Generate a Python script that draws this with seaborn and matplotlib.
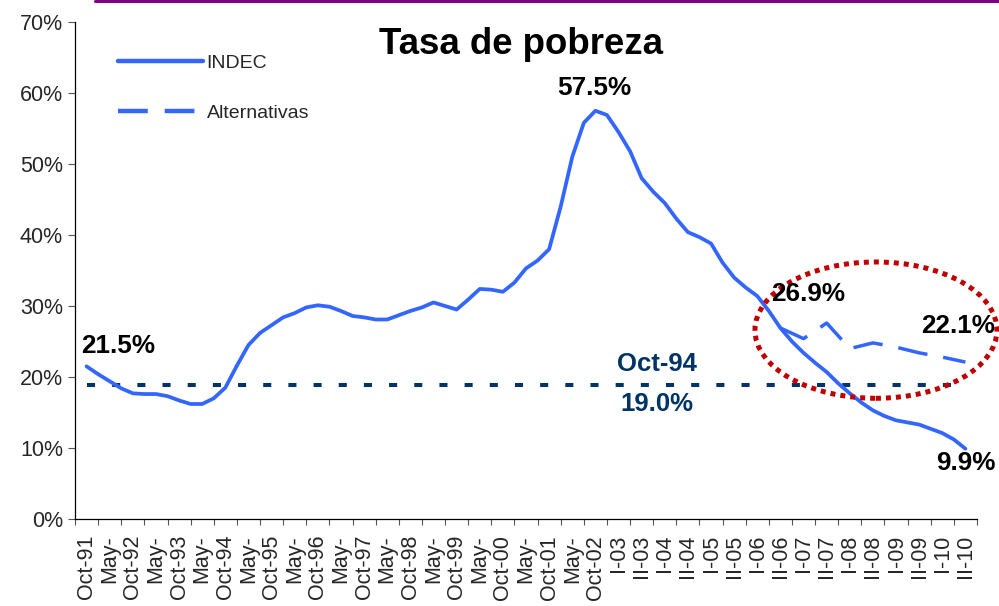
import numpy as np
import pandas as pd
import matplotlib
matplotlib.use("Agg")
import matplotlib.pyplot as plt
import seaborn as sns
from matplotlib.patches import Ellipse
from matplotlib.lines import Line2D

# ---------------- data ----------------
categories = ["Oct-91", "May-", "Oct-92", "May-", "Oct-93", "May-", "Oct-94", "May-",
              "Oct-95", "May-", "Oct-96", "May-", "Oct-97", "May-", "Oct-98", "May-",
              "Oct-99", "May-", "Oct-00", "May-", "Oct-01", "May-", "Oct-02",
              "I-03", "II-03", "I-04", "II-04", "I-05", "II-05", "I-06", "II-06",
              "I-07", "II-07", "I-08", "II-08", "I-09", "II-09", "I-10", "II-10"]

# INDEC series read at half-category resolution (Oct-91 ... II-10)
indec_vals = [21.5, 20.4, 19.4, 18.4, 17.7, 17.6, 17.6, 17.3, 16.7, 16.2,
              16.2, 17.0, 18.5, 21.6, 24.5, 26.2, 27.3, 28.4, 29.0, 29.8,
              30.1, 29.9, 29.3, 28.6, 28.4, 28.1, 28.1, 28.7, 29.3, 29.8,
              30.5, 30.0, 29.5, 30.9, 32.4, 32.3, 32.0, 33.3, 35.3, 36.4,
              38.0, 44.0, 51.0, 55.8, 57.5, 56.9, 54.5, 51.8, 48.0, 46.1,
              44.5, 42.3, 40.4, 39.7, 38.8, 36.1, 34.0, 32.6, 31.4, 29.3,
              26.9, 25.0, 23.4, 22.0, 20.7, 19.1, 17.7, 16.4, 15.3, 14.5,
              13.9, 13.6, 13.3, 12.7, 12.1, 11.2, 9.9]

# Alternative estimates from II-06 to II-10
alt_start = "II-06"
alt_vals = [26.9, 25.4, 27.6, 24.0, 24.8, 24.2, 23.4, 22.8, 22.1]

ref_value = 18.9          # Oct-94 level line
ref_label = "19.0%"

# ---------------- frames ----------------
indec_df = pd.DataFrame({"pos": np.arange(len(indec_vals)) / 2.0, "value": indec_vals})
i0 = len(categories) - len(alt_vals)
alt_df = pd.DataFrame({"pos": np.arange(i0, len(categories)), "value": alt_vals})
ref_df = pd.DataFrame({"pos": np.arange(len(categories)), "value": [ref_value] * len(categories)})

# ---------------- style ----------------
sns.set_style("ticks")
plt.rcParams["font.family"] = ["Liberation Sans", "DejaVu Sans"]

BLUE = "#3366FF"
NAVY = "#003366"
RED = "#C00000"
PURPLE = "#800080"

fig = plt.figure(figsize=(9.99, 6.06), dpi=100)
ax = fig.add_axes([75 / 999, 1 - 519 / 606, 902 / 999, 497 / 606])

sns.lineplot(data=ref_df, x="pos", y="value", ax=ax, color=NAVY, lw=2.9,
             linestyle=(0, (2, 4.25)), dash_capstyle="butt", zorder=2)
sns.lineplot(data=alt_df, x="pos", y="value", ax=ax, color=BLUE, lw=2.5,
             linestyle=(0, (8.6, 4.6)), dash_capstyle="butt", zorder=3)
sns.lineplot(data=indec_df, x="pos", y="value", ax=ax, color=BLUE, lw=2.7,
             solid_joinstyle="round", zorder=4)

ell = Ellipse((34.13, 26.6), width=10.46, height=19.2, fill=False, edgecolor=RED,
              lw=3.6, linestyle=(0, (1, 1)), clip_on=False, zorder=5)
ax.add_patch(ell)

# ---------------- axes ----------------
ax.set_xlim(-0.5, len(categories) - 0.5)
ax.set_ylim(0, 70)
ax.set_yticks(np.arange(0, 71, 10))
ax.set_yticklabels([f"{v}%" for v in range(0, 71, 10)])
ax.set_xticks(np.arange(len(categories)))
ax.set_xticklabels(categories, rotation=90)
ax.set_xticks(np.arange(-0.5, len(categories), 1), minor=True)
ax.tick_params(axis="x", which="major", length=0, pad=11.5, labelsize=15.5)
ax.tick_params(axis="x", which="minor", length=4.5, width=0.8, color="#555555")
ax.tick_params(axis="y", length=4.7, width=0.8, pad=4, labelsize=15.5, color="#555555")
ax.set_xlabel("")
ax.set_ylabel("")
for s in ["top", "right"]:
    ax.spines[s].set_visible(False)
for s in ["left", "bottom"]:
    ax.spines[s].set_color("black")
    ax.spines[s].set_linewidth(0.9)
ax.grid(False)

# ---------------- annotations ----------------
lab_kw = dict(textcoords="offset points", ha="center", va="center", fontsize=18.8,
              fontweight="bold", color="black", annotation_clip=False, zorder=6)
ax.annotate("21.5%", (0, indec_vals[0]), xytext=(23, 14.4), **lab_kw)
ax.annotate("57.5%", (22, max(indec_vals)), xytext=(-1, 16.3), **lab_kw)
ax.annotate("26.9%", (i0, alt_vals[0]), xytext=(19.9, 24.5), **lab_kw)
ax.annotate("22.1%", (len(categories) - 1, alt_vals[-1]), xytext=(-5.3, 26), **lab_kw)
ax.annotate("9.9%", (len(categories) - 1, indec_vals[-1]), xytext=(0.4, -10.3), **lab_kw)

ref_kw = dict(textcoords="offset points", ha="center", va="center", fontsize=18.5,
              fontweight="bold", color=NAVY, zorder=6)
ax.annotate("Oct-94", (24.66, ref_value), xytext=(0, 15.1), **ref_kw)
ax.annotate(ref_label, (24.66, ref_value), xytext=(0, -13.7), **ref_kw)

# ---------------- legend ----------------
handles = [Line2D([], [], color=BLUE, lw=3.2),
           Line2D([], [], color=BLUE, lw=3.2, linestyle=(0, (6.7, 3.8)), dash_capstyle="butt")]
leg = ax.legend(handles, ["INDEC", "Alternativas"], loc="upper left",
                bbox_to_anchor=(100 / 999, 1 - 37 / 606), bbox_transform=fig.transFigure,
                frameon=False, fontsize=14, handlelength=4.38, handletextpad=0.2,
                labelspacing=1.65, borderpad=0.4)

# ---------------- title and top rule ----------------
fig.text(521 / 999, 1 - 53.5 / 606, "Tasa de pobreza", ha="center", va="baseline",
         fontsize=26.4, fontweight="bold", color="black")
fig.add_artist(Line2D([95 / 999, 1.0], [1 - 1.3 / 606, 1 - 1.3 / 606],
                      transform=fig.transFigure, color=PURPLE, lw=2.2))

fig.savefig("out.png", dpi=100)
